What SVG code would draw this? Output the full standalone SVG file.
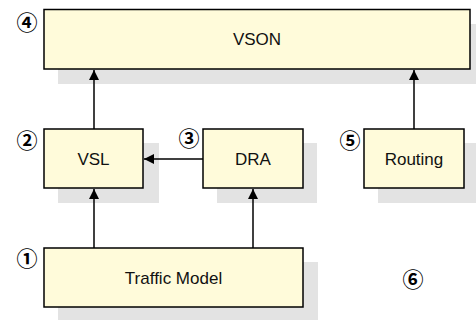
<svg xmlns="http://www.w3.org/2000/svg" width="476" height="320" viewBox="0 0 476 320">
<defs>
<style>
.sh{fill:#e3e3e3;stroke:none}
.bx{fill:#fffbda;stroke:#000;stroke-width:1.5}
.lb{font-family:"Liberation Sans",Arial,sans-serif;font-size:17px;fill:#111;text-anchor:middle}
.num{font-family:"Noto Sans CJK JP","Noto Sans CJK SC",sans-serif;font-size:21px;font-weight:bold;fill:#000;text-anchor:middle;dominant-baseline:central}
.cn{stroke:#000;stroke-width:1.5;fill:none;marker-end:url(#ah)}
</style>
<marker id="ah" viewBox="0 0 10 10" refX="10" refY="5" markerWidth="10" markerHeight="10" markerUnits="userSpaceOnUse" orient="auto">
<path d="M0,0 L10,5 L0,10 z" fill="#000"/>
</marker>
</defs>
<g id="vson">
<rect class="sh" x="58" y="24" width="418" height="60"/>
<rect class="bx" x="44" y="9.5" width="426" height="59.5"/>
<text class="lb" x="257" y="45">VSON</text>
</g>
<g id="vsl">
<rect class="sh" x="58" y="143" width="101" height="60"/>
<rect class="bx" x="44" y="129" width="99" height="59"/>
<text class="lb" x="93.5" y="164.5">VSL</text>
</g>
<g id="dra">
<rect class="sh" x="217" y="143" width="100" height="60"/>
<rect class="bx" x="203" y="129" width="100" height="59"/>
<text class="lb" x="253" y="164.5">DRA</text>
</g>
<g id="routing">
<rect class="sh" x="378" y="143" width="98" height="60"/>
<rect class="bx" x="364" y="129" width="100" height="59"/>
<text class="lb" x="414" y="164.5">Routing</text>
</g>
<g id="traffic">
<rect class="sh" x="58" y="262" width="260" height="58"/>
<rect class="bx" x="44" y="248" width="259" height="59"/>
<text class="lb" x="173.5" y="283.5">Traffic Model</text>
</g>
<g id="labels">
<text class="num" x="27" y="21">④</text>
<text class="num" x="27" y="139">②</text>
<text class="num" x="189" y="137">③</text>
<text class="num" x="350" y="139">⑤</text>
<text class="num" x="27" y="257">①</text>
<text class="num" x="413" y="278">⑥</text>
</g>
<g id="connectors">
<line class="cn" x1="94" y1="129" x2="94" y2="70"/>
<line class="cn" x1="414" y1="129" x2="414" y2="70"/>
<line class="cn" x1="203" y1="159" x2="144" y2="159"/>
<line class="cn" x1="94" y1="248" x2="94" y2="189"/>
<line class="cn" x1="253" y1="248" x2="253" y2="189"/>
</g>
</svg>
